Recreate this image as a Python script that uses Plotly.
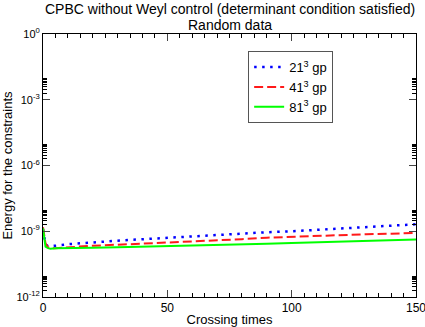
import plotly.graph_objects as go

# crossing times
t = [0, 0.5, 1, 2, 3, 5, 10, 20, 30, 40, 50, 60, 70, 80, 90, 100, 110, 120, 130, 140, 150]

# energy for the constraints
e21 = [1.23e-9, 4.33e-10, 2.57e-10, 2.08e-10, 2.08e-10, 2.19e-10, 2.57e-10, 3.16e-10, 3.70e-10, 4.33e-10,
       5.07e-10, 5.93e-10, 6.58e-10, 7.69e-10, 9.0e-10, 1.0e-9, 1.17e-9, 1.37e-9, 1.52e-9, 1.78e-9, 2.08e-9]
e41 = [1.52e-9, 5.34e-10, 2.85e-10, 1.87e-10, 1.69e-10, 1.69e-10, 1.87e-10, 2.19e-10, 2.43e-10, 2.71e-10,
       3.0e-10, 3.51e-10, 3.90e-10, 4.33e-10, 5.07e-10, 5.62e-10, 6.24e-10, 6.58e-10, 7.31e-10, 7.69e-10, 8.55e-10]
e81 = [1.37e-9, 3.51e-10, 1.97e-10, 1.69e-10, 1.60e-10, 1.69e-10, 1.69e-10, 1.78e-10, 1.87e-10, 1.97e-10,
       2.08e-10, 2.31e-10, 2.43e-10, 2.57e-10, 2.71e-10, 2.94e-10, 3.16e-10, 3.33e-10, 3.70e-10, 3.90e-10, 4.20e-10]

names = ["21<sup>3</sup> gp", "41<sup>3</sup> gp", "81<sup>3</sup> gp"]

ytickvals = [1e0, 1e-3, 1e-6, 1e-9, 1e-12]
yticktext = ["10<sup>0</sup>", "10<sup>-3</sup>", "10<sup>-6</sup>", "10<sup>-9</sup>", "10<sup>-12</sup>"]
yminor = [k * 10.0 ** p for p in (-3, -6, -9, -12) for k in range(2, 10)]

fig = go.Figure()
fig.add_trace(go.Scatter(x=t, y=e21, name=names[0], mode="lines",
                         line=dict(color="#0000ff", width=2.5, dash="2.5px,5.5px")))
fig.add_trace(go.Scatter(x=t, y=e41, name=names[1], mode="lines",
                         line=dict(color="#ff1a1a", width=2, dash="9px,4px")))
fig.add_trace(go.Scatter(x=t, y=e81, name=names[2], mode="lines",
                         line=dict(color="#00ff00", width=2)))

fig.update_layout(
    width=425, height=327,
    margin=dict(l=43, r=9, t=34, b=30),
    paper_bgcolor="white", plot_bgcolor="white",
    font=dict(family="Liberation Sans, Arial", size=12, color="black"),
    showlegend=True,
    legend=dict(x=0.55, y=0.935, xanchor="left", yanchor="top",
                bordercolor="#555555", borderwidth=1, bgcolor="white",
                font=dict(size=13), tracegroupgap=0),
    annotations=[
        dict(text="CPBC without Weyl control (determinant condition satisfied)",
             x=0.5, y=1, xref="paper", yref="paper", yanchor="middle", yshift=25,
             showarrow=False, font=dict(size=14)),
        dict(text="Random data", x=0.5, y=1, xref="paper", yref="paper",
             yanchor="middle", yshift=9, showarrow=False, font=dict(size=14)),
    ],
)

fig.update_xaxes(range=[0, 150], tickvals=[0, 50, 100, 150], ticks="inside", ticklen=7,
                 minor=dict(dtick=5, tick0=0, ticks="inside", ticklen=4, tickcolor="black"),
                 showline=True, linecolor="black", linewidth=1, mirror="ticks",
                 showgrid=False, zeroline=False, tickfont=dict(size=12),
                 automargin=False, ticklabeloverflow="allow",
                 title=dict(text="Crossing times", font=dict(size=13), standoff=2))
fig.update_yaxes(type="log", range=[-12, 0], tickvals=ytickvals, ticktext=yticktext,
                 ticks="inside", ticklen=7,
                 minor=dict(tickvals=yminor, ticks="inside", ticklen=4, tickcolor="black"),
                 showline=True, linecolor="black", linewidth=1, mirror="ticks",
                 showgrid=False, zeroline=False, tickfont=dict(size=11),
                 automargin=False, ticklabeloverflow="allow",
                 title=dict(text="Energy for the constraints", font=dict(size=13), standoff=4))

# page has a default body margin; drop it so the figure sits at the corner
fig.write_html("out.html", config={"displayModeBar": False},
               post_script="document.body.style.margin='0';")
